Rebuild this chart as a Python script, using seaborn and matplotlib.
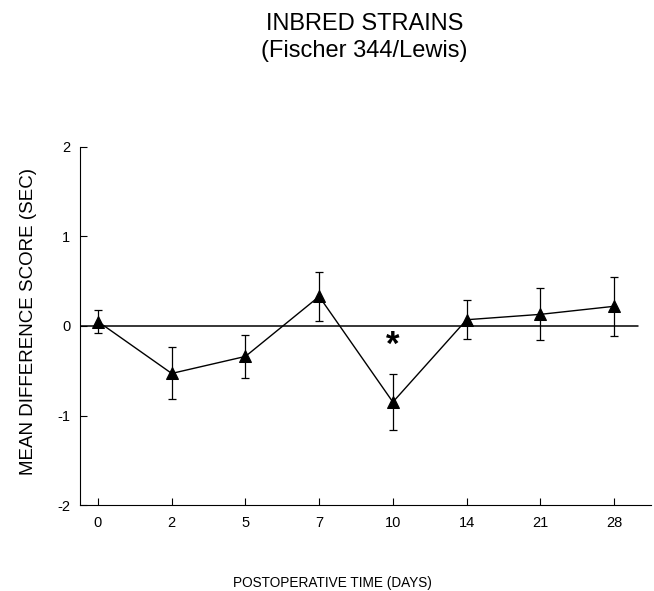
import numpy as np
import pandas as pd
import matplotlib
matplotlib.use("Agg")
import matplotlib.pyplot as plt
import seaborn as sns

days = ["0", "2", "5", "7", "10", "14", "21", "28"]
mean_diff = [0.05, -0.53, -0.34, 0.33, -0.85, 0.07, 0.13, 0.22]
sem = [0.13, 0.29, 0.24, 0.27, 0.31, 0.22, 0.29, 0.33]

df = pd.DataFrame({"pos": np.arange(len(days)), "score": mean_diff, "err": sem})

sns.set_style("ticks")
plt.rcParams["font.family"] = ["Liberation Sans", "DejaVu Sans"]
plt.rcParams["axes.unicode_minus"] = False
plt.rcParams["text.color"] = "black"
plt.rcParams["axes.labelcolor"] = "black"
plt.rcParams["xtick.color"] = "black"
plt.rcParams["ytick.color"] = "black"

fig = plt.figure(figsize=(6.54, 5.91), dpi=100)
ax = fig.add_axes([0.1223, 0.1455, 0.873, 0.6058])

ax.errorbar(df["pos"], df["score"], yerr=df["err"], fmt="none",
            ecolor="black", elinewidth=0.9, capsize=3, capthick=0.9, zorder=2)
sns.lineplot(data=df, x="pos", y="score", color="black", linewidth=1.0,
             marker="^", markersize=8, markeredgecolor="black", ax=ax, zorder=3)

# zero reference line stops a little short of the axis end
ax.axhline(0, xmin=0, xmax=0.977, color="black", linewidth=1.1, zorder=1)

# significance mark above day 10
ax.text(4, -0.22, "*", fontsize=25, fontweight="bold", ha="center", va="center")

ax.set_xlim(-0.244, 7.50)
ax.set_ylim(-2, 2)
ax.set_xticks(df["pos"])
ax.set_xticklabels(days)
ax.set_yticks([-2, -1, 0, 1, 2])
ax.tick_params(direction="in", length=5, width=0.8, labelsize=10.5)
ax.tick_params(axis="x", pad=8)
ax.tick_params(axis="y", pad=7)

sns.despine(ax=ax, top=True, right=True)
for s in ["left", "bottom"]:
    ax.spines[s].set_linewidth(0.8)
    ax.spines[s].set_color("black")

ax.set_xlabel("")
ax.set_ylabel("")
fig.text(0.509, 0.0135, "POSTOPERATIVE TIME (DAYS)", ha="center", va="center", fontsize=9.8)
fig.text(0.043, 0.456, "MEAN DIFFERENCE SCORE (SEC)", ha="center", va="center",
         rotation=90, fontsize=13.5)

fig.text(0.557, 0.949, "INBRED STRAINS", ha="center", va="baseline", fontsize=17)
fig.text(0.557, 0.9036, "(Fischer 344/Lewis)", ha="center", va="baseline", fontsize=17)

fig.savefig("out.png", dpi=100)
plt.close(fig)
